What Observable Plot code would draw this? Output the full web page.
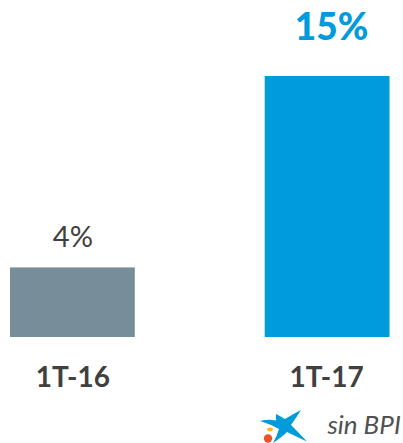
<!DOCTYPE html>
<html><head><meta charset="utf-8">
<script src="https://cdn.jsdelivr.net/npm/d3@7"></script>
<script src="https://cdn.jsdelivr.net/npm/@observablehq/plot@0.6"></script>
<style>
html,body{margin:0;padding:0;background:#fff}
#c{position:relative;width:403px;height:443px;overflow:hidden}
#c svg.logo{position:absolute;left:0;top:0}
</style></head><body><div id="c"></div>
<script>
const periods = ["1T-16", "1T-17"];
const values = [4, 15];
const valueLabels = ["4%", "15%"];
const barColors = ["#778d99", "#009bdb"];
const labelColors = ["#404040", "#009bdb"];
const note = "sin BPI";
const font = "Lato, Carlito, sans-serif";
const rows = periods.map((p, i) => ({p, v: values[i], label: valueLabels[i], bar: barColors[i], col: labelColors[i]}));
const plot = Plot.plot({
  width: 403, height: 443, margin: 0,
  marginLeft: 0, marginRight: 0, marginTop: 0, marginBottom: 0,
  style: {fontFamily: font, background: "transparent"},
  x: {domain: periods, range: [10, 389.5], paddingInner: 0.51, paddingOuter: 0, round: false, axis: null},
  y: {domain: [0, 15], range: [337, 76], axis: null},
  marks: [
    Plot.barY(rows, {x: "p", y: "v", fill: d => d.bar}),
    Plot.text(rows.slice(0,1), {x: "p", y: "v", text: "label", fill: d => d.col, fontSize: 29, dy: -30}),
    Plot.text(rows.slice(1), {x: "p", y: "v", text: "label", fill: d => d.col, fontSize: 37, fontWeight: 900, dx: 4, dy: -48}),
    Plot.text(rows.slice(0,1), {x: "p", y: 0, text: "p", fill: "#404040", fontSize: 28, fontWeight: 700, dy: 41}),
    Plot.text(rows.slice(1), {x: "p", y: 0, text: "p", fill: "#404040", fontSize: 28, fontWeight: 700, dx: -1, dy: 41}),
    Plot.text([note], {x: () => periods[1], y: 0, text: d => d, fill: "#505050", fontSize: 26, fontStyle: "italic", dx: 36.5, dy: 88})
  ]
});
const c = document.getElementById("c");
c.appendChild(plot);
c.insertAdjacentHTML("beforeend", `<svg class="logo" width="403" height="443" viewBox="0 0 403 443">
<path fill="#009bdb" d="M260 421 Q268 419 276 420.5 L276 414 Q280 416 285 419 Q293 414 301 410 Q296 418 291 425 Q299 433 307 441.5 Q297 437 287 432 Q282 437 273 443 Q277 436 279 429 Q270 424 260 421 Z"/>
<ellipse cx="270" cy="429.5" rx="2.8" ry="1.9" fill="#fdb813"/>
<circle cx="268" cy="438.5" r="4.2" fill="#e8522b"/></svg>`);
</script></body></html>
